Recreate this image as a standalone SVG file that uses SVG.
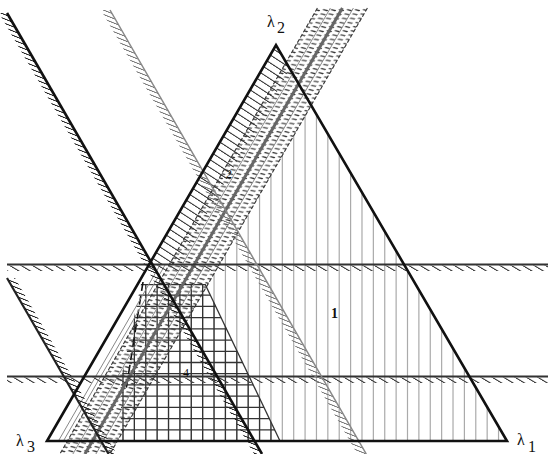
<svg xmlns="http://www.w3.org/2000/svg" width="548" height="454" viewBox="0 0 548 454">
<style>
.vg{stroke:#aaa;stroke-width:1.2}
.gr{stroke:#333;stroke-width:1.3}
.thick{stroke:#111;stroke-width:2.6;fill:none}
.hl{stroke:#333;stroke-width:1.8}
.bedge{stroke:#333;stroke-width:1.1;stroke-dasharray:4 2}
.bthin{stroke:#888;stroke-width:1}
.lab{font-family:"Liberation Serif","Times New Roman",serif;fill:#111}
</style>
<defs>
<pattern id="hh" patternUnits="userSpaceOnUse" width="11.4" height="10" patternTransform="skewX(59)"><line x1="1" y1="-1" x2="1" y2="11" stroke="#444" stroke-width="2.4"/></pattern>
<pattern id="hk" patternUnits="userSpaceOnUse" width="11" height="10" patternTransform="skewX(68.2)"><line x1="1.2" y1="-1" x2="1.2" y2="11" stroke="#222" stroke-width="3"/></pattern>
<pattern id="hg" patternUnits="userSpaceOnUse" width="11" height="10" patternTransform="skewX(68.2)"><line x1="1.2" y1="-1" x2="1.2" y2="11" stroke="#777" stroke-width="3"/></pattern>
<pattern id="h2" patternUnits="userSpaceOnUse" width="12.3" height="10" patternTransform="skewX(57)"><line x1="1" y1="-1" x2="1" y2="11" stroke="#444" stroke-width="2.2"/></pattern>
<pattern id="bd" patternUnits="userSpaceOnUse" width="8" height="4.2" patternTransform="skewX(-30)"><path d="M0.5,1.2 L6,2.4" stroke="#333" stroke-width="1.1"/></pattern>
<clipPath id="gridclip"><polygon points="141,284 205,284 280,441 121,441 121,380"/></clipPath>
</defs>
<rect width="548" height="454" fill="#fff"/>

<g id="region1-verticals">
<path class="vg" d="M123,431.3V441 M134.38,411.6V441 M145.76,391.9V441 M157.14,372.2V441 M168.52,352.4V441 M179.9,332.7V441 M191.28,313V441 M202.66,293.3V441 M214.04,273.6V441 M225.42,253.9V441 M236.8,234.2V441 M248.18,214.4V441 M259.56,194.7V441 M270.94,175V441 M282.32,155.3V441 M293.7,135.6V441 M305.08,115.9V441 M316.46,114.4V441 M327.84,133.9V441 M339.22,153.4V441 M350.6,172.9V441 M361.98,192.4V441 M373.36,211.9V441 M384.74,231.4V441 M396.12,250.9V441 M407.5,270.4V441 M418.88,289.9V441 M430.26,309.4V441 M441.64,328.9V441 M453.02,348.5V441 M464.4,368V441 M475.78,387.5V441 M487.16,407V441 M498.54,426.5V441"/>
</g>

<g id="grid-region" clip-path="url(#gridclip)">
<path class="gr" d="M115,441H290 M115,429.8H290 M115,418.6H290 M115,407.4H290 M115,396.2H290 M115,384.9H290 M115,373.7H290 M115,362.5H290 M115,351.3H290 M115,340.1H290 M115,328.9H290 M115,317.6H290 M115,306.4H290 M115,295.2H290 M115,284.6H290"/>
<path class="gr" d="M123,280V445 M134.38,280V445 M145.76,280V445 M157.14,280V445 M168.52,280V445 M179.9,280V445 M191.28,280V445 M202.66,280V445 M214.04,280V445 M225.42,280V445 M236.8,280V445 M248.18,280V445 M259.56,280V445 M270.94,280V445"/>
</g>
<g id="grid-edges">
<line x1="205" y1="284" x2="280" y2="441" stroke="#333" stroke-width="1.3"/>
<line x1="143" y1="282" x2="126" y2="390" stroke="#111" stroke-width="1.6" stroke-dasharray="9 5"/>
</g>

<g id="region2-hatch">
<polygon points="276,45 290,69 178,264 149.6,264" fill="url(#h2)"/>
<path class="bthin" d="M160.6,264L58.4,441 M165.6,264L63.4,441"/>
</g>

<g id="band">
<polygon points="317.4,8 367.4,8 109.9,454 59.9,454" fill="url(#bd)"/>
<line class="bedge" x1="317.4" y1="8" x2="59.9" y2="454"/>
<line class="bedge" x1="367.4" y1="8" x2="109.9" y2="454"/>
<line class="bthin" x1="330.4" y1="8" x2="72.9" y2="454"/>
<line class="bthin" x1="353.4" y1="8" x2="95.9" y2="454"/>
<line x1="342.4" y1="8" x2="84.9" y2="454" stroke="#666" stroke-width="3"/>
</g>

<g id="horizontal-lines">
<rect x="7" y="265.5" width="541" height="5.5" fill="url(#hh)"/>
<rect x="7" y="377.5" width="541" height="5.5" fill="url(#hh)"/>
<line class="hl" x1="7" y1="264.5" x2="548" y2="264.5"/>
<line class="hl" x1="7" y1="376.5" x2="548" y2="376.5"/>
</g>

<g id="sloped-lines">
<polygon points="-1,13 7,13 262,454 254,454" fill="url(#hk)"/>
<line class="thick" x1="7" y1="13" x2="262" y2="454"/>
<polygon points="7,278 15,278 116.6,454 108.6,454" fill="url(#hk)"/>
<line x1="7" y1="278" x2="108.6" y2="454" stroke="#222" stroke-width="2.2"/>
<polygon points="101,10 110,10 366.3,454 357.3,454" fill="url(#hg)"/>
<line x1="110" y1="10" x2="366.3" y2="454" stroke="#888" stroke-width="1.5"/>
</g>

<g id="triangle">
<polygon class="thick" points="47,441 276,45 507,441" stroke-linejoin="miter"/>
</g>

<g id="labels">
<text class="lab" x="267" y="27" font-size="16">λ</text>
<text class="lab" x="277" y="33" font-size="16">2</text>
<text class="lab" x="16" y="446" font-size="16">λ</text>
<text class="lab" x="27" y="452" font-size="16">3</text>
<text class="lab" x="517" y="445" font-size="16">λ</text>
<text class="lab" x="528" y="452" font-size="16">1</text>
<text class="lab" x="331" y="318" font-size="14" font-weight="bold">1</text>
<text class="lab" x="226" y="178" font-size="12">2</text>
<text class="lab" x="183" y="377" font-size="12">4</text>
</g>
</svg>
